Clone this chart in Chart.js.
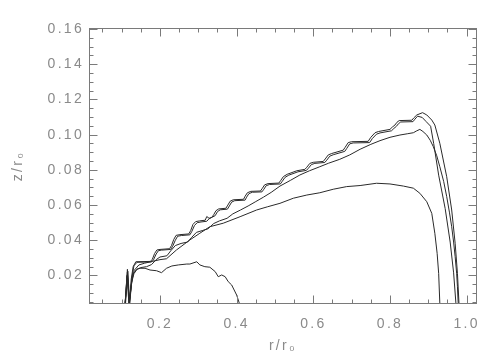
<!DOCTYPE html>
<html><head><meta charset="utf-8">
<script src="https://cdn.jsdelivr.net/npm/chart.js@4"></script>
<style>html,body{margin:0;padding:0;background:#fff}#wrap{width:504px;height:360px}</style>
</head><body><div id="wrap"><canvas id="c" width="504" height="360"></canvas></div>
<script>
// ---- tick labels ----
const xTickValues = [0.2, 0.4, 0.6, 0.8, 1.0];
const yTickValues = [0.02, 0.04, 0.06, 0.08, 0.10, 0.12, 0.14, 0.16];
const xTitle = 'r/r\u2080';
const yTitle = 'z/r\u2080';

// ---- curve A (top staircase) ----
const aR = [0.109,0.115,0.120,0.125,0.130,0.137,0.175,0.180,0.186,0.192,0.200,0.225,0.230,0.236,0.242,0.252,0.275,0.280,0.286,0.293,0.303,0.318,0.322,0.328,0.335,0.340,0.346,0.353,0.372,0.377,0.383,0.391,0.418,0.422,0.428,0.437,0.462,0.467,0.473,0.482,0.510,0.515,0.522,0.532,0.557,0.578,0.583,0.591,0.600,0.626,0.631,0.639,0.648,0.678,0.683,0.691,0.700,0.743,0.750,0.761,0.770,0.800,0.806,0.813,0.818,0.824,0.857,0.862,0.870,0.885,0.896,0.909,0.917,0.930,0.948,0.961,0.970,0.976,0.980];
const aZ = [0.0038,0.0235,0.0038,0.018,0.025,0.0278,0.0280,0.0292,0.0325,0.0345,0.0348,0.0352,0.0370,0.0405,0.0428,0.0432,0.0436,0.0455,0.0490,0.0506,0.0510,0.0514,0.0535,0.0525,0.0530,0.0545,0.0568,0.0578,0.0582,0.0600,0.0622,0.0630,0.0633,0.0650,0.0670,0.0678,0.0680,0.0695,0.0715,0.0722,0.0725,0.0740,0.0762,0.0775,0.0795,0.0803,0.0815,0.0837,0.0843,0.0848,0.0862,0.0885,0.0893,0.0912,0.0928,0.0955,0.0960,0.0962,0.0985,0.1011,0.1018,0.1030,0.1043,0.1055,0.1070,0.1080,0.1082,0.1095,0.1112,0.1125,0.1112,0.1083,0.1055,0.0951,0.0761,0.0572,0.0383,0.0212,0.0042];
// ---- curve B (second staircase) ----
const bR = [0.110,0.116,0.121,0.127,0.132,0.140,0.178,0.183,0.190,0.196,0.204,0.228,0.233,0.240,0.246,0.256,0.278,0.283,0.290,0.297,0.307,0.322,0.328,0.344,0.350,0.357,0.376,0.381,0.387,0.395,0.422,0.426,0.432,0.441,0.466,0.471,0.477,0.486,0.514,0.519,0.526,0.536,0.560,0.582,0.587,0.595,0.604,0.630,0.635,0.643,0.652,0.682,0.687,0.695,0.704,0.747,0.754,0.765,0.774,0.804,0.810,0.817,0.822,0.828,0.860,0.865,0.872,0.884,0.894,0.906,0.914,0.927,0.944,0.957,0.966,0.972,0.975];
const bZ = [0.0038,0.0225,0.0038,0.019,0.0255,0.0275,0.0277,0.0289,0.0322,0.0341,0.0344,0.0348,0.0366,0.0400,0.0423,0.0427,0.0431,0.0450,0.0484,0.0500,0.0504,0.0508,0.0522,0.0540,0.0563,0.0573,0.0577,0.0595,0.0617,0.0625,0.0628,0.0645,0.0665,0.0673,0.0675,0.0690,0.0710,0.0717,0.0720,0.0735,0.0757,0.0770,0.0789,0.0797,0.0809,0.0830,0.0837,0.0842,0.0855,0.0878,0.0886,0.0905,0.0921,0.0948,0.0953,0.0955,0.0978,0.1003,0.1010,0.1022,0.1035,0.1048,0.1062,0.1072,0.1074,0.1088,0.1105,0.1098,0.1075,0.1048,0.0950,0.0770,0.0580,0.0390,0.0215,0.0042];
// ---- curve C ----
const cR = [0.109,0.115,0.120,0.126,0.132,0.140,0.150,0.165,0.178,0.190,0.200,0.218,0.228,0.240,0.255,0.272,0.282,0.295,0.310,0.325,0.340,0.355,0.375,0.390,0.410,0.430,0.450,0.470,0.490,0.513,0.540,0.565,0.590,0.617,0.640,0.669,0.695,0.722,0.750,0.774,0.800,0.826,0.845,0.861,0.870,0.878,0.886,0.896,0.905,0.913,0.922,0.930,0.940,0.948,0.955,0.961,0.966,0.970,0.974,0.976,0.978];
const cZ = [0.0038,0.0200,0.0038,0.0160,0.0210,0.0235,0.0245,0.0250,0.0262,0.0290,0.0305,0.0312,0.0340,0.0370,0.0382,0.0390,0.0415,0.0445,0.0455,0.0465,0.0495,0.0510,0.0525,0.0550,0.0572,0.0595,0.0620,0.0645,0.0672,0.0708,0.0740,0.0771,0.0795,0.0818,0.0838,0.0860,0.0885,0.0917,0.0945,0.0966,0.0985,0.0998,0.1005,0.1011,0.1022,0.1030,0.1018,0.0998,0.0968,0.0932,0.0880,0.0818,0.0735,0.0648,0.0560,0.0477,0.0390,0.0307,0.0210,0.0136,0.0042];
// ---- curve D ----
const dR = [0.109,0.115,0.120,0.126,0.133,0.145,0.160,0.180,0.200,0.217,0.243,0.278,0.304,0.330,0.365,0.409,0.452,0.480,0.513,0.548,0.583,0.617,0.652,0.687,0.722,0.765,0.800,0.835,0.861,0.878,0.896,0.909,0.917,0.923,0.927,0.930];
const dZ = [0.0038,0.0220,0.0038,0.0170,0.0230,0.0260,0.0270,0.0280,0.0290,0.0295,0.0345,0.0402,0.0440,0.0477,0.0497,0.0534,0.0572,0.0590,0.0610,0.0639,0.0657,0.0670,0.0690,0.0705,0.0711,0.0724,0.0720,0.0708,0.0696,0.0667,0.0619,0.0553,0.0440,0.0326,0.0212,0.0042];
// ---- curve E (small) ----
const eR = [0.109,0.114,0.119,0.125,0.130,0.139,0.148,0.161,0.174,0.191,0.204,0.217,0.231,0.248,0.270,0.278,0.296,0.304,0.317,0.330,0.344,0.352,0.361,0.370,0.378,0.387,0.400,0.407];
const eZ = [0.0038,0.0200,0.0038,0.0140,0.0208,0.0235,0.0241,0.0241,0.0231,0.0227,0.0216,0.0241,0.0254,0.0260,0.0265,0.0265,0.0278,0.0260,0.0250,0.0247,0.0222,0.0193,0.0203,0.0193,0.0165,0.0146,0.0089,0.0042];

const X_MIN = 0.0148, X_MAX = 1.027, Y_MIN = 0.0038, Y_MAX = 0.1606;
const AXIS = '#7a7a7a', TEXT = '#8a8a8a', LINE = '#2a2a2a';
const FONT = 'Liberation Sans, Arial, sans-serif';

function pts(r, z) { return r.map((v, i) => ({x: v, y: z[i]})); }
const curves = [[aR,aZ],[bR,bZ],[cR,cZ],[dR,dZ],[eR,eZ]];

const spacing = {
  id: 'spacing',
  beforeUpdate(chart) { try { chart.ctx.letterSpacing = '2.3px'; } catch (e) {} },
  beforeDraw(chart) { try { chart.ctx.letterSpacing = '2.3px'; } catch (e) {} }
};

const box = {
  id: 'box',
  afterDatasetsDraw(chart) {
    const {ctx, chartArea: ca, scales: {x, y}} = chart;
    const L = Math.round(ca.left) + 0.5, R = Math.round(ca.right) - 0.5;
    const T = Math.round(ca.top) + 0.5, B = Math.round(ca.bottom) - 0.5;
    ctx.save();
    ctx.strokeStyle = AXIS; ctx.lineWidth = 1;
    ctx.strokeRect(L, T, R - L, B - T);
    ctx.beginPath();
    for (let i = 1; i * 0.05 <= X_MAX; i++) {
      const v = i * 0.05;
      const px = Math.round(x.getPixelForValue(v)) + 0.5;
      const len = (i % 4 === 0) ? 8 : 4;
      ctx.moveTo(px, B); ctx.lineTo(px, B - len);
      ctx.moveTo(px, T); ctx.lineTo(px, T + len);
    }
    for (let i = 1; i * 0.005 <= Y_MAX; i++) {
      const v = i * 0.005;
      if (v < Y_MIN) continue;
      const py = Math.round(y.getPixelForValue(v)) + 0.5;
      const len = (i % 4 === 0) ? 8 : 4;
      ctx.moveTo(L, py); ctx.lineTo(L + len, py);
      ctx.moveTo(R, py); ctx.lineTo(R - len, py);
    }
    ctx.stroke();
    ctx.restore();
  }
};

new Chart(document.getElementById('c'), {
  type: 'scatter',
  data: {
    datasets: curves.map(([r, z]) => ({
      data: pts(r, z), showLine: true, pointRadius: 0, borderColor: LINE,
      borderWidth: 1, tension: 0, fill: false
    }))
  },
  options: {
    responsive: false, animation: false, devicePixelRatio: 1,
    layout: {padding: {top: 28, right: 27, left: 0, bottom: 0}},
    plugins: {legend: {display: false}, tooltip: {enabled: false}},
    scales: {
      x: {
        type: 'linear', min: X_MIN, max: X_MAX,
        afterBuildTicks: s => { s.ticks = xTickValues.map(v => ({value: v})); },
        afterFit: s => { s.height = 56; },
        grid: {display: false, drawTicks: false}, border: {display: false},
        ticks: {padding: 12, color: TEXT, font: {family: FONT, size: 14}, maxRotation: 0, autoSkip: false,
                callback: v => v.toFixed(1)},
        title: {display: true, text: xTitle, color: TEXT, font: {family: FONT, size: 14}, padding: {top: 0, bottom: 5}}
      },
      y: {
        type: 'linear', min: Y_MIN, max: Y_MAX,
        afterBuildTicks: s => { s.ticks = yTickValues.map(v => ({value: v})); },
        afterFit: s => { s.width = 89; },
        grid: {display: false, drawTicks: false}, border: {display: false},
        ticks: {padding: 5, color: TEXT, font: {family: FONT, size: 14}, autoSkip: false,
                callback: v => v.toFixed(2)},
        title: {display: true, text: yTitle, color: TEXT, font: {family: FONT, size: 14}, padding: {top: 10, bottom: 0}}
      }
    }
  },
  plugins: [spacing, box]
});
</script>
</body></html>
